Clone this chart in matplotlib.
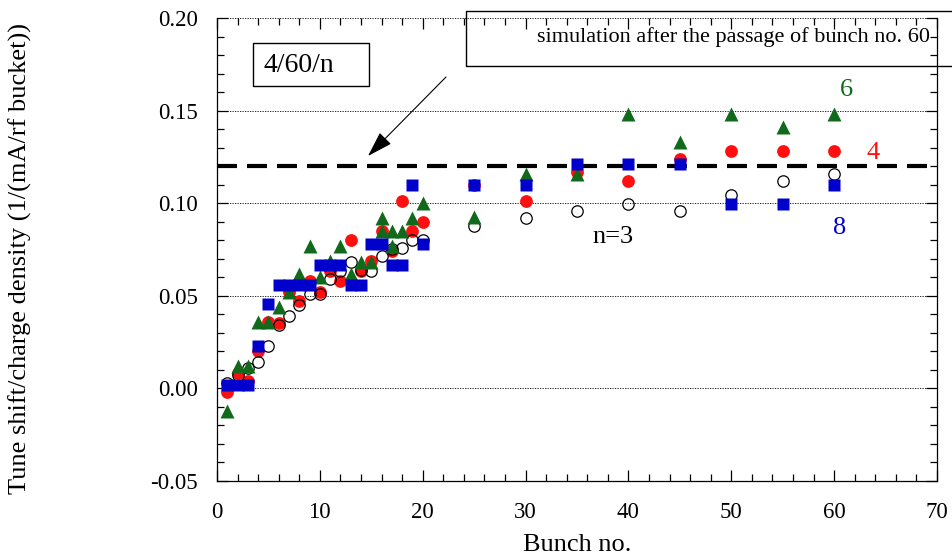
import matplotlib
matplotlib.use('Agg')
import matplotlib.pyplot as plt
from matplotlib.patches import Rectangle
from matplotlib.ticker import MultipleLocator, FormatStrFormatter

plt.rcParams['font.family'] = ['Liberation Serif', 'DejaVu Serif']

# bunch numbers
bunch = list(range(1, 21)) + [25, 30, 35, 40, 45, 50, 55, 60]

# tune shift / charge density for each fill pattern 4/60/n
n3 = [0.003, 0.007, 0.011, 0.0144, 0.023, 0.034, 0.039, 0.045, 0.051, 0.051,
      0.059, 0.0635, 0.068, 0.064, 0.0635, 0.0716, 0.075, 0.076, 0.080, 0.080,
      0.0876, 0.0918, 0.096, 0.0996, 0.096, 0.1045, 0.112, 0.116]
n4 = [-0.002, 0.0085, 0.004, 0.020, 0.036, 0.0355, 0.052, 0.047, 0.058, 0.052,
      0.0635, 0.058, 0.080, 0.0635, 0.069, 0.085, 0.074, 0.101, 0.085, 0.090,
      0.110, 0.101, 0.117, 0.112, 0.124, 0.128, 0.128, 0.128]
n6 = [-0.012, 0.012, 0.012, 0.036, 0.036, 0.044, 0.052, 0.0617, 0.077, 0.060,
      0.069, 0.077, 0.062, 0.068, 0.068, 0.092, 0.085, 0.085, 0.092, 0.100,
      0.0927, 0.116, 0.116, 0.148, 0.133, 0.148, 0.141, 0.148]
n8 = [0.002, 0.002, 0.002, 0.023, 0.0455, 0.056, 0.056, 0.056, 0.056, 0.0665,
      0.0665, 0.0665, 0.056, 0.056, 0.078, 0.078, 0.0665, 0.0665, 0.110, 0.078,
      0.110, 0.110, 0.121, 0.121, 0.121, 0.0996, 0.0996, 0.110]

# second n=6 measurements at bunches 16 and 17
bunch_n6_extra = [16, 17]
n6_extra = [0.085, 0.077]

sim_level = 0.12

red = '#ff0f0f'
green = '#11691c'
blue = '#0000cc'

fig = plt.figure(figsize=(9.53, 5.58), dpi=100)
ax = fig.add_axes([217 / 953, 77 / 558, 720 / 953, 463 / 558])

for yv in [0.0, 0.05, 0.10, 0.15, 0.20]:
    ax.axhline(yv, color='black', lw=0.6, ls=(0, (1.5, 1.5)), zorder=1)

ax.axhline(sim_level, color='black', lw=3, dashes=(4.8, 2.4), zorder=2)

ax.plot(bunch, n4, 'o', ms=9.2, color=red, mec='none', zorder=3)
ax.plot(bunch, n3, 'o', ms=8.2, mfc='none', mec='black', mew=0.9, zorder=4)
ax.plot(bunch, n6, '^', ms=9.6, color=green, mec='none', zorder=5)
ax.plot(bunch_n6_extra, n6_extra, '^', ms=9.6, color=green, mec='none', zorder=5)
ax.plot(bunch, n8, 's', ms=9.2, color=blue, mec='none', zorder=6)

ax.set_xlim(0, 70)
ax.set_ylim(-0.05, 0.20)
ax.xaxis.set_major_locator(MultipleLocator(10))
ax.xaxis.set_minor_locator(MultipleLocator(2))
ax.yaxis.set_major_locator(MultipleLocator(0.05))
ax.yaxis.set_minor_locator(MultipleLocator(0.01))
ax.yaxis.set_major_formatter(FormatStrFormatter('%.2f'))
ax.tick_params(which='both', direction='in', top=True, right=True,
               labelsize=16.5, width=0.9)
ax.tick_params(which='major', length=8)
ax.tick_params(which='minor', length=5)
ax.tick_params(axis='x', pad=15)
ax.tick_params(axis='y', pad=14)
for sp in ax.spines.values():
    sp.set_linewidth(0.9)
ax.spines['top'].set_visible(False)

fig.text(577 / 953, 1 - 545 / 558, 'Bunch no.', ha='center', va='center', fontsize=19)
fig.text(20 / 953, 1 - 259 / 558, 'Tune shift/charge density (1/(mA/rf bucket))',
         ha='center', va='center', rotation=90, fontsize=19)

# series labels
ax.text(61.2, 0.161, '6', color=green, fontsize=19, ha='center', va='center')
ax.text(63.8, 0.127, '4', color=red, fontsize=19, ha='center', va='center')
ax.text(60.5, 0.0867, '8', color=blue, fontsize=19, ha='center', va='center')
ax.text(38.5, 0.0818, 'n=3', color='black', fontsize=19, ha='center', va='center')

# boxes
fig.patches.append(Rectangle((253 / 953, 1 - 86 / 558), 116 / 953, 43 / 558,
                             transform=fig.transFigure, fill=False,
                             edgecolor='black', lw=1))
fig.text(263 / 953, 1 - 66 / 558, '4/60/n', ha='left', va='center', fontsize=20)

fig.patches.append(Rectangle((466 / 953, 1 - 66 / 558), 500 / 953, 55 / 558,
                             transform=fig.transFigure, fill=False,
                             edgecolor='black', lw=1))
fig.text(537 / 953, 1 - 37 / 558, 'simulation after the passage of bunch no. 60',
         ha='left', va='center', fontsize=16)

ax.annotate('', xy=(368, 558 - 156), xycoords='figure pixels',
            xytext=(446, 558 - 77), textcoords='figure pixels',
            arrowprops=dict(arrowstyle='-|>,head_length=0.8,head_width=0.25',
                            mutation_scale=20, color='black', lw=0.8,
                            shrinkA=0, shrinkB=0))

fig.savefig('out.png', dpi=100)
